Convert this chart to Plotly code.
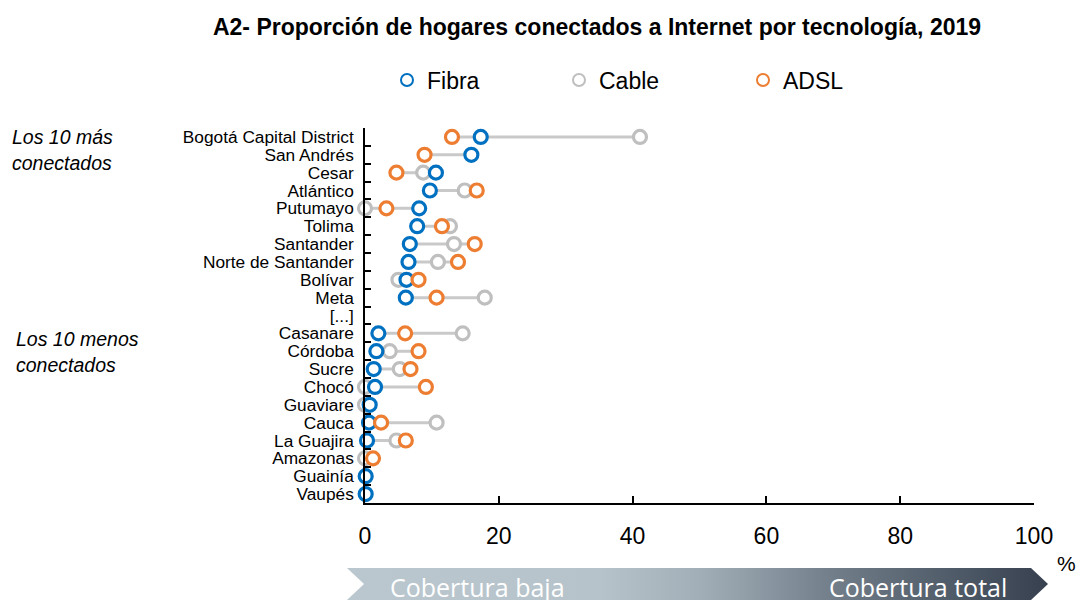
import base64
import plotly.graph_objects as go

# ---------------- data ----------------
regions = ["Bogotá Capital District", "San Andrés", "Cesar", "Atlántico", "Putumayo",
           "Tolima", "Santander", "Norte de Santander", "Bolívar", "Meta", "[...]",
           "Casanare", "Córdoba", "Sucre", "Chocó", "Guaviare", "Cauca", "La Guajira",
           "Amazonas", "Guainía", "Vaupés"]
fibra = [17.3, 15.9, 10.6, 9.7, 8.1, 7.8, 6.7, 6.5, 6.2, 6.1, None,
         2.0, 1.7, 1.3, 1.5, 0.7, 0.6, 0.3, None, 0.1, 0.1]
cable = [41.1, None, 8.7, 14.9, 0.0, 12.7, 13.3, 10.9, 5.0, 17.9, None,
         14.6, 3.7, 5.2, 0.0, 0.0, 10.7, 4.7, 0.0, None, None]
adsl = [13.0, 8.9, 4.7, 16.7, 3.2, 11.5, 16.4, 13.9, 8.0, 10.7, None,
        6.0, 8.0, 6.8, 9.1, None, 2.4, 6.1, 1.2, None, None]
x_ticks = [0, 20, 40, 60, 80, 100]

title = "A2- Proporción de hogares conectados a Internet por tecnología, 2019"
group_top = ["Los 10 más", "conectados"]
group_bottom = ["Los 10 menos", "conectados"]

# ---------------- style ----------------
C_FIBRA = "#0070C0"
C_CABLE = "#BFBFBF"
C_ADSL = "#ED7D31"
C_LINE = "#C9C9C9"
FONT = "Liberation Sans, Arial, sans-serif"

OFF = 8                      # page body margin
W, H = 1084 - OFF, 600 - OFF
# plot area, in screen pixels
SL, SR, ST, SB = 365, 1034, 128, 503
L, R, T, B = SL - OFF, SR - OFF, ST - OFF, SB - OFF


def px_x(sx):
    return (sx - OFF - L) / (R - L)


def px_y(sy):
    return (B - (sy - OFF)) / (B - T)


# connecting segments (min to max per row)
seg_x, seg_y = [], []
for reg, a, b, c in zip(regions, fibra, cable, adsl):
    vals = [v for v in (a, b, c) if v is not None]
    if len(vals) >= 2 and max(vals) > min(vals):
        seg_x += [min(vals), max(vals), None]
        seg_y += [reg, reg, None]

fig = go.Figure()
fig.add_trace(go.Scatter(x=seg_x, y=seg_y, mode="lines",
                         line=dict(color=C_LINE, width=3),
                         showlegend=False, hoverinfo="skip", cliponaxis=False))


def dots(vals, name, color, legend):
    return go.Scatter(x=vals, y=regions, mode="markers", name=name,
                      legend=legend, cliponaxis=False, showlegend=True,
                      marker=dict(symbol="circle", size=13, color="white",
                                  line=dict(color=color, width=3.2)))


fig.add_trace(dots(cable, "Cable", C_CABLE, "legend2"))
fig.add_trace(dots(fibra, "Fibra", C_FIBRA, "legend"))
fig.add_trace(dots(adsl, "ADSL", C_ADSL, "legend3"))


def legend_box(marker_sx):
    return dict(orientation="h", x=px_x(marker_sx - 19), xanchor="left",
                y=px_y(80), yanchor="middle",
                font=dict(family=FONT, size=23, color="#000000"),
                bgcolor="rgba(0,0,0,0)", itemsizing="constant")


fig.update_layout(
    width=W, height=H,
    margin=dict(l=L, r=W - R, t=T, b=H - B, pad=0),
    paper_bgcolor="white", plot_bgcolor="white",
    font=dict(family=FONT, color="#000000", size=18),
    title=dict(text="<b>" + title + "</b>", x=(597 - OFF) / W, xref="container",
               xanchor="center", y=1 - (27 - OFF) / H, yref="container", yanchor="middle",
               font=dict(family=FONT, size=23, color="#000000")),
    showlegend=True,
    legend=legend_box(406),
    legend2=legend_box(578),
    legend3=legend_box(762),
    xaxis=dict(range=[0, 100], tickvals=x_ticks, ticks="inside", ticklen=7,
               tickwidth=1.5, tickcolor="black", showline=True, linecolor="black",
               linewidth=1.5, showgrid=False, zeroline=False,
               ticklabelstandoff=12,
               tickfont=dict(family=FONT, size=23, color="black")),
    yaxis=dict(type="category", categoryorder="array", categoryarray=regions,
               range=[len(regions) - 0.5, -0.5], tickson="boundaries",
               tickmode="linear", tick0=0, dtick=1,
               ticks="inside", ticklen=6, tickwidth=1.5, tickcolor="black",
               showline=True, linecolor="black", linewidth=1.5,
               showgrid=False, zeroline=False, ticklabelstandoff=6,
               tickfont=dict(family=FONT, size=17.3, color="black")),
)


def side_label(text, sx, sy):
    fig.add_annotation(text="<i>" + text + "</i>", xref="paper", yref="paper",
                       x=px_x(sx), y=px_y(sy), xanchor="left", yanchor="middle",
                       align="left", showarrow=False,
                       font=dict(family=FONT, size=19.5, color="black"))


side_label(group_top[0], 10, 137)
side_label(group_top[1], 10, 163)
side_label(group_bottom[0], 14, 339)
side_label(group_bottom[1], 14, 365)

# unit
fig.add_annotation(text="%", xref="paper", yref="paper", x=px_x(1066), y=px_y(563),
                   xanchor="center", yanchor="middle", showarrow=False,
                   font=dict(family=FONT, size=21, color="black"))

# gradient arrow band
ax0, ax1, ay0, ay1 = 347, 1048, 568, 600
aw, ah = ax1 - ax0, ay1 - ay0
svg = f'''<svg xmlns="http://www.w3.org/2000/svg" width="{aw}" height="{ah}" viewBox="0 0 {aw} {ah}" preserveAspectRatio="none">
<defs><linearGradient id="g" x1="0" y1="0" x2="1" y2="0">
<stop offset="0" stop-color="#bac7ce"/>
<stop offset="0.36" stop-color="#b6c3ca"/>
<stop offset="0.5" stop-color="#a3afb8"/>
<stop offset="0.7" stop-color="#707c88"/>
<stop offset="1" stop-color="#36404f"/>
</linearGradient></defs>
<polygon points="0,0 {aw-17},0 {aw},{ah/2} {aw-17},{ah} 0,{ah} 17,{ah/2}" fill="url(#g)"/>
</svg>'''
uri = "data:image/svg+xml;base64," + base64.b64encode(svg.encode("utf-8")).decode("ascii")
fig.add_layout_image(dict(source=uri, xref="paper", yref="paper",
                          x=px_x(ax0), y=px_y(ay0), sizex=aw / (R - L), sizey=ah / (B - T),
                          xanchor="left", yanchor="top", sizing="stretch", layer="below"))
fig.add_annotation(text="Cobertura baja", xref="paper", yref="paper",
                   x=px_x(388), y=px_y(587), xanchor="left", yanchor="middle",
                   showarrow=False, font=dict(family="Open Sans, sans-serif", size=25, color="white"))
fig.add_annotation(text="Cobertura total", xref="paper", yref="paper",
                   x=px_x(1009), y=px_y(587), xanchor="right", yanchor="middle",
                   showarrow=False, font=dict(family="Open Sans, sans-serif", size=25, color="white"))

fig.write_html("out.html")
